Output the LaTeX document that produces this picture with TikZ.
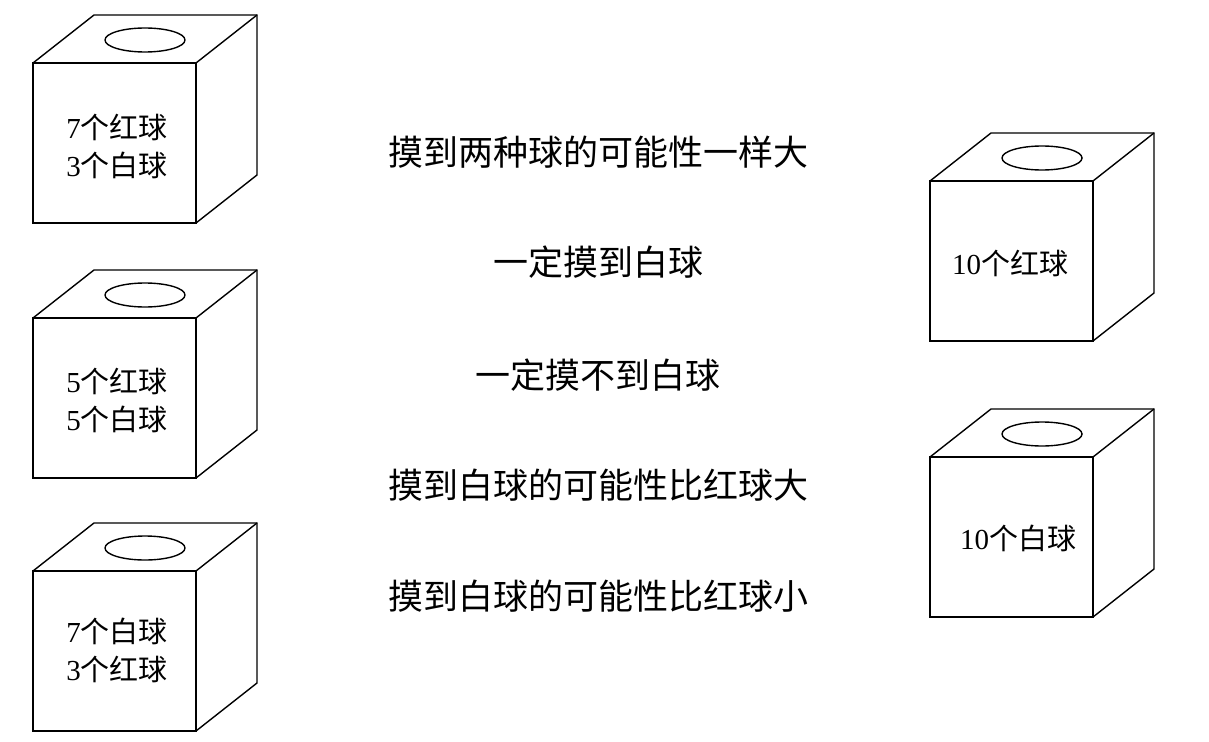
\documentclass[tikz,border=0pt]{standalone}
\usepackage{fontspec}
\setmainfont{Liberation Serif}
\newfontfamily\cjk{Noto Sans CJK SC}
\usetikzlibrary{calc}

\begin{document}
\begin{tikzpicture}[x=1pt,y=-1pt,line width=1.4pt,
  boxlabel/.style={font=\fontsize{29}{38}\selectfont,align=center,inner sep=0pt},
  choice/.style={font=\cjk\fontsize{35}{38}\selectfont,inner sep=0pt}]
  \useasboundingbox (0,0) rectangle (1209,741);
  % boxes: front top-left corner of each
  \foreach \bx/\by in {33/63, 33/318, 33/571, 930/181, 930/457} {
    \draw (\bx,\by) rectangle ++(163,160);
    \draw (\bx,\by) -- ++(61,-48) -- ++(163,0) -- ++(0,160) -- ++(-61,48);
    \draw (\bx+163,\by) -- ++(61,-48);
    \draw (\bx+112,\by-23) ellipse (40pt and 12pt);
  }
  \node[boxlabel] (box1) at (117,146) {7{\cjk 个红球}\\3{\cjk 个白球}};
  \node[boxlabel] (box2) at (117,400) {5{\cjk 个红球}\\5{\cjk 个白球}};
  \node[boxlabel] (box3) at (117,650) {7{\cjk 个白球}\\3{\cjk 个红球}};
  \node[boxlabel] (box4) at (1010,263) {10{\cjk 个红球}};
  \node[boxlabel] (box5) at (1018,538) {10{\cjk 个白球}};
  % the five statements
  \node[choice] (same) at (598,152) {摸到两种球的可能性一样大};
  \node[choice] (surewhite) at (598,262) {一定摸到白球};
  \node[choice] (nowhite) at (598,375) {一定摸不到白球};
  \node[choice] (morewhite) at (598,485) {摸到白球的可能性比红球大};
  \node[choice] (lesswhite) at (598,596) {摸到白球的可能性比红球小};
\end{tikzpicture}
\end{document}
